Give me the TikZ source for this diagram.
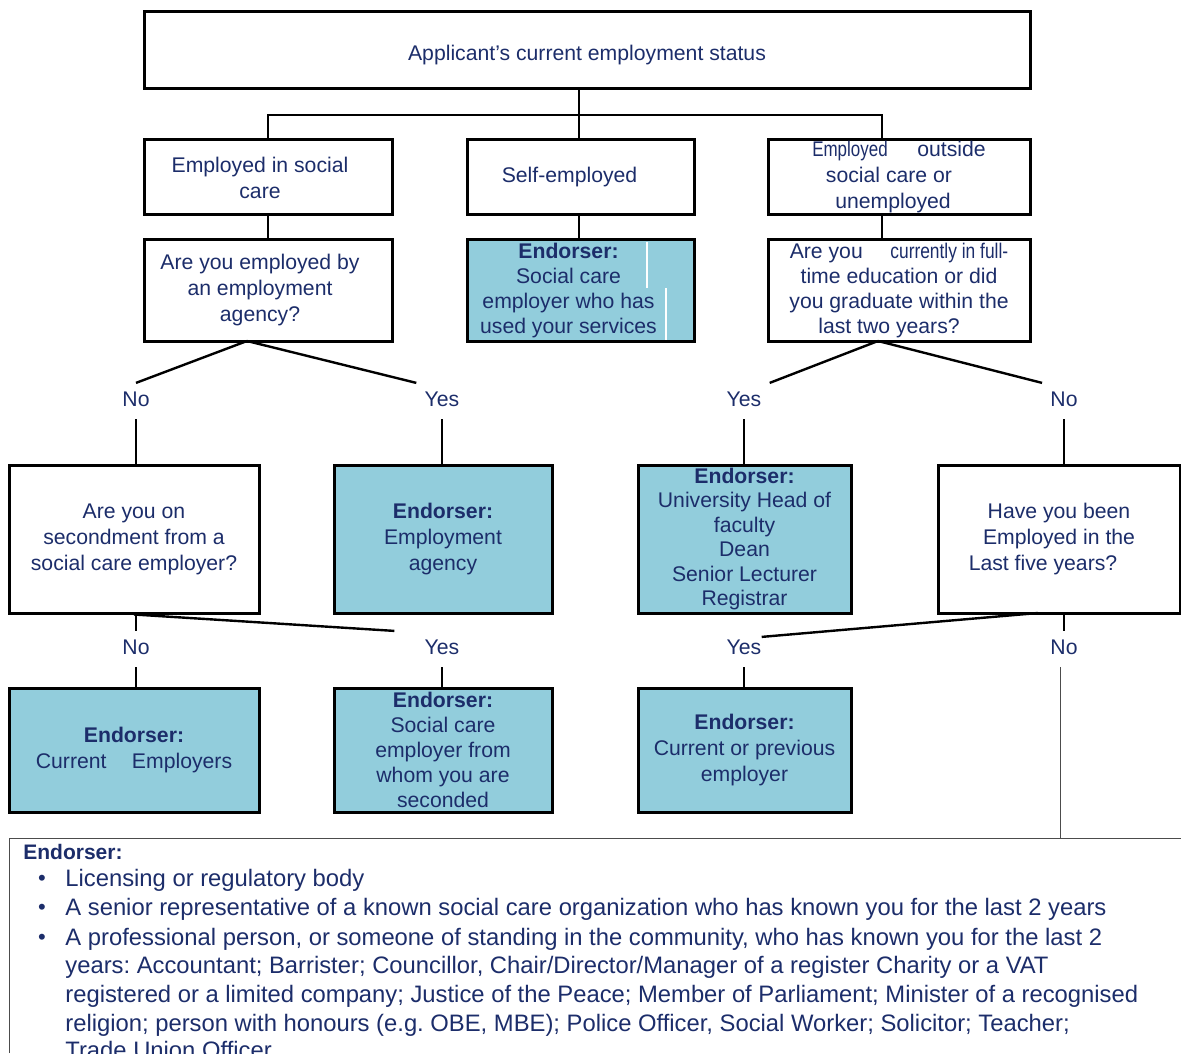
\documentclass[tikz,border=0pt]{standalone}
\usepackage{fontspec}
\setmainfont{Liberation Sans}
\definecolor{navy}{HTML}{1C2D6A}
\definecolor{endfill}{HTML}{92CDDC}
\tikzset{
  box/.style={draw=black, line width=1.5pt, fill=white, text=navy, align=center,
    font=\fontsize{10.6}{13}\selectfont, inner sep=0pt},
  endbox/.style={box, fill=endfill},
  lab/.style={text=navy, font=\fontsize{10.6}{12}\selectfont, inner sep=4pt,
    text height=7.7pt, text depth=2pt},
  link/.style={line width=1.2pt},
  thinline/.style={line width=0.5pt, draw=black!70},
  listtext/.style={anchor=west, text=navy, font=\fontsize{11.9}{14}\selectfont,
    inner sep=0pt, text height=8.5pt, text depth=2.5pt},
}
\frenchspacing
\begin{document}
\begin{tikzpicture}[x=0.5pt, y=-0.5pt]
      \useasboundingbox (0,0) rectangle (1181,1053);

      \node[box, minimum width=443pt, minimum height=38.5pt, text height=12pt, text depth=2pt]
        (TOP) at (587,50.5) {Applicant’s current employment status};

      \node[box, minimum width=124pt, minimum height=37.5pt] (SC) at (268,177.5)
        {Employed in social\kern8pt\\care\kern8pt};
      \node[box, minimum width=113.5pt, minimum height=37.5pt] (SE) at (580.5,177.5)
        {Self-employed\kern11pt};
      \node[box, minimum width=131pt, minimum height=37.5pt] (OUT) at (899,177.5)
        {\scalebox{0.8}[1]{Employed}\hspace{1.4em}outside\\social care or\kern10pt\\unemployed\kern6pt};

      \node[box, minimum width=124pt, minimum height=50.5pt] (Q1) at (268,290.5)
        {Are you employed by\kern8pt\\an employment\kern8pt\\agency?\kern8pt};
      \node[endbox, minimum width=113.5pt, minimum height=50.5pt,
        font=\fontsize{10.6}{12.5}\selectfont] (E1) at (580.5,290.5)
        {\textbf{Endorser:}\kern12pt\\Social care\kern12pt\\employer who has\kern12pt\\used your services\kern12pt};
      \node[box, minimum width=131pt, minimum height=50.5pt,
        font=\fontsize{10.6}{12.5}\selectfont] (Q2) at (899,290.5)
        {Are you\hspace{1.3em}\scalebox{0.82}[1]{currently in full-}\\time education or did\\you graduate within the\\last two years?\kern10pt};
      \draw[white, line width=0.6pt] (647,242) -- (647,288) (666,288) -- (666,340);

      \node[lab] (N1) at (136,401) {No};
      \node[lab] (Y1) at (442,401) {Yes};
      \node[lab] (Y2) at (744,401) {Yes};
      \node[lab] (N2) at (1064,401) {No};

      \node[box, minimum width=125pt, minimum height=74pt] (Q3) at (134,539)
        {Are you on\\secondment from a\\social care employer?};
      \node[endbox, minimum width=109pt, minimum height=74pt] (E2) at (443,539)
        {\textbf{Endorser:}\\Employment\\agency};
      \node[endbox, minimum width=106.5pt, minimum height=74pt,
        font=\fontsize{10.6}{12.2}\selectfont] (E3) at (744.5,539)
        {\textbf{Endorser:}\\University Head of\\faculty\\Dean\\Senior Lecturer\\Registrar};
      \node[box, minimum width=121pt, minimum height=74pt] (Q4) at (1059,539)
        {Have you been\\Employed in the\\Last five years?\kern16pt};

      \node[lab] (N3) at (136,649) {No};
      \node[lab] (Y3) at (442,649) {Yes};
      \node[lab] (Y4) at (744,649) {Yes};
      \node[lab] (N4) at (1064,649) {No};

      \node[endbox, minimum width=125pt, minimum height=62pt] (E4) at (134,750)
        {\textbf{Endorser:}\\Current\hspace{1.2em}Employers};
      \node[endbox, minimum width=109pt, minimum height=62pt,
        font=\fontsize{10.6}{12.4}\selectfont] (E5) at (443,750)
        {\textbf{Endorser:}\\Social care\\employer from\\whom you are\\seconded};
      \node[endbox, minimum width=106.5pt, minimum height=62pt] (E6) at (744.5,750)
        {\textbf{Endorser:}\\Current or previous\\employer};

      \coordinate (J) at (579,115);
      \coordinate (J3) at (882,115);
      \coordinate (D1) at (247,341);
      \coordinate (D2) at (878,341);
      \coordinate (D4) at (1038,613);
      \coordinate (BL) at (9,838);
      \coordinate (BR) at (1181,838);
      \coordinate (BB) at (9,1053);

      \draw[link] (TOP.south -| J) -- (SE.north -| J);
      \draw[link] (SC.north) -- (SC.north |- J) -- (J3) -- (J3 |- OUT.north);
      \draw[link] (SC.south) -- (Q1.north);
      \draw[link] (SE.south -| J) -- (E1.north -| J);
      \draw[link] (OUT.south -| J3) -- (Q2.north -| J3);

      \draw[link] (D1) -- (N1.north);
      \draw[link] (D1) -- (Y1.north west);
      \draw[link] (D2) -- (Y2.north east);
      \draw[link] (D2) -- (N2.north west);
      \draw[link] (N1.south) -- (N1.south |- Q3.north);
      \draw[link] (Y1.south) -- (Y1.south |- E2.north);
      \draw[link] (Y2.south) -- (Y2.south |- E3.north);
      \draw[link] (N2.south) -- (N2.south |- Q4.north);

      \draw[link] (Q3.south) -- ([xshift=-11pt]Y3.north west);
      \draw[link] (N3.north) -- (N3.north |- Q3.south);
      \draw[link] (D4) -- ([xshift=-4pt,yshift=-3pt]Y4.north east);
      \draw[link] (N4.north) -- (N4.north |- Q4.south);
      \draw[link] (N3.south) -- (N3.south |- E4.north);
      \draw[link] (Y3.south) -- (Y3.south |- E5.north);
      \draw[link] (Y4.south) -- (Y4.south |- E6.north);
      \draw[thinline] ([xshift=-2pt]N4.south) -- ([xshift=-2pt]N4.south |- BL);

      \draw[thinline] (BB) -- (BL) -- (BR);
      \node[anchor=west, text=navy, font=\fontsize{10.5}{12}\selectfont\bfseries, inner sep=0pt]
        (EH) at (23,852) {Endorser:};
      \foreach \y [count=\i] in {880,909,939}
        \node[text=navy, font=\fontsize{11}{13}\selectfont, inner sep=0pt] (B\i) at (42,\y) {\textbullet};
      \foreach \y/\t [count=\i] in {
          880/{Licensing or regulatory body},
          909/{A senior representative of a known social care organization who has known you for the last 2 years},
          939/{A professional person, or someone of standing in the community, who has known you for the last 2},
          967/{years: Accountant; Barrister; Councillor, Chair/Director/Manager of a register Charity or a VAT},
          996/{registered or a limited company; Justice of the Peace; Member of Parliament; Minister of a recognised},
          1025/{religion; person with honours (e.g. OBE, MBE); Police Officer, Social Worker; Solicitor; Teacher;},
          1052/{Trade Union Officer}}
        \node[listtext] (L\i) at (65,\y) {\t};

      \end{tikzpicture}
\end{document}
